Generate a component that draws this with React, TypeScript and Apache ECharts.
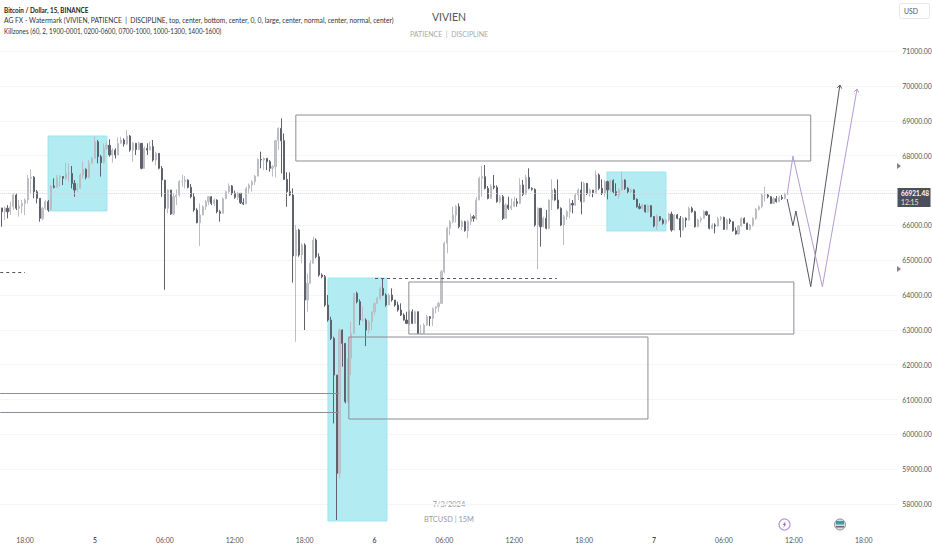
import React, { useEffect, useRef } from "react";
import * as echarts from "echarts";

const closes = [66390,66490,66390,66535,66870,66490,66555,66630,66730,67350,67380,66965,66775,66200,66490,66680,66440,67130,67090,67380,67400,67350,67490,67490,67205,67015,67060,67445,67607,67380,67780,67923,68400,67970,67800,68210,68300,68020,68160,68020,68354,68450,68335,68565,68160,68354,68180,68354,67636,68210,68160,68260,67875,68067,67636,67300,66488,67015,66325,66820,66870,67254,67254,67300,67090,66820,66440,66076,66296,66535,66680,66820,66630,66727,66390,66345,66765,66965,67130,66920,66803,66920,66650,66612,67060,67158,67254,67416,67895,67875,67923,67828,67636,67684,68430,68785,68430,67320,66965,66870,65120,65866,65148,65435,63856,64335,64909,65579,65100,64574,64526,63712,63281,62755,61702,58879,62994,62612,60937,62181,62899,64047,63808,63281,63281,62994,63234,63521,63760,63904,64190,63999,63712,63999,63856,63712,63569,63425,63281,63186,63521,63186,63521,62899,62899,63138,63377,63329,63616,63664,63760,64670,65483,65914,66105,66296,66536,65961,66105,65847,66105,66248,66200,66727,67349,67397,67062,66775,67129,67091,66679,66823,66200,66583,66488,66555,66679,66631,67158,66890,67378,67062,67033,66009,66488,65961,66200,65914,66727,67014,66727,66488,66009,66248,66392,66631,66583,66871,67014,66679,67205,66919,67015,66938,67445,67062,66919,67254,67015,67282,66967,66871,67015,67302,67062,66967,67015,66747,66536,66488,66584,66392,66565,66249,65981,66249,66153,66058,66153,66325,65866,66297,66201,65866,66201,66153,66488,66393,65962,66153,66201,66393,66297,65914,66010,65981,66191,66230,65885,66153,66105,65847,65751,65981,66201,66058,65885,66010,66201,66459,66536,66871,66871,66823,66632,66766,66680,66804,66766,66900,66919];
const highs = [66490,66540,66580,66680,66920,66920,66730,66730,66775,67445,67607,67416,67015,66775,66535,66727,66727,67158,67350,67445,67445,67416,67800,67780,67703,67300,67205,67490,67828,67636,67875,67970,68545,68450,68020,68354,68400,68470,68210,68210,68526,68545,68500,68737,68593,68400,68354,68400,68180,68260,68354,68400,68450,68115,68067,67703,67300,67033,66820,66920,67033,67300,67445,67416,67320,67186,66920,66488,66630,66580,66727,66840,66840,66775,66746,66440,66803,66995,67205,67158,66995,66965,66920,66775,67110,67205,67300,67445,67923,68115,67952,67923,67875,67730,68450,68813,69072,68641,67521,67521,67060,66009,65900,65483,65483,64620,65000,65674,65627,65196,64620,64574,63999,63377,62803,61702,63042,63013,62612,62803,63234,64047,64095,63875,63664,63329,63281,63521,63780,63950,64238,64478,64047,64047,64190,63856,63808,63760,63473,63521,63569,63588,63550,63521,63138,63186,63425,63396,63645,63680,63808,64717,65530,65961,66153,66536,66583,66631,66153,66134,66153,66344,66296,66823,67397,67703,67732,67129,67177,67445,67148,66871,66871,66631,66823,66775,66823,66775,67349,67301,67445,67636,67091,67062,66517,66440,66248,66440,66746,67320,67062,67320,66517,66296,66440,66775,66727,66918,67062,67253,67253,67158,67062,67015,67570,67493,67321,67302,67282,67321,67321,67206,67062,67541,67321,67091,67053,67034,66775,66632,66613,66584,66593,66584,66268,66325,66268,66201,66191,66364,66393,66325,66325,66268,66230,66230,66536,66536,66421,66201,66249,66440,66421,66306,66058,66058,66249,66268,66249,66191,66201,66115,65943,66010,66230,66230,66077,66038,66230,66498,66574,66919,67110,66900,66842,66804,66842,66842,66871,66938,66957];
const lows = [65960,66150,66200,66300,66440,66440,66250,66345,66300,66630,66920,66775,66630,66105,66150,66440,66390,66440,67060,67090,67110,67158,67300,67254,67060,66820,66965,67110,67350,67320,67350,67780,67970,67780,67400,67780,68160,67970,67800,67920,68020,68354,68260,68300,68115,67828,68020,68160,67607,67730,68020,68160,67828,67730,67607,66820,64150,66345,66300,66300,66580,66820,67110,67060,67060,66775,66390,66057,65406,66300,66440,66580,66580,66555,66345,66105,66420,66746,66920,66870,66765,66727,66612,66580,66630,66920,66965,67158,67400,67636,67588,67588,67540,67400,67380,68160,67490,67300,66535,66840,64354,62660,65100,64909,62995,63520,64335,64909,65052,64526,64478,63664,63234,62707,60315,57540,58736,61942,60889,60889,61702,62947,63760,63138,63234,62535,62899,62994,63425,63760,63856,63970,63664,63712,63808,63665,63521,63396,63262,63167,63138,63167,63186,62880,62880,62880,63109,63109,63109,63473,63521,63760,64620,65196,65722,66057,66076,65914,65866,65818,65626,66009,66105,66153,66775,66823,67033,66746,66775,67033,66650,66631,66153,66200,66440,66440,66517,66536,66612,66842,66871,67033,66995,65961,64736,65387,65942,65885,65885,66440,66708,66459,65980,65435,66153,66200,66344,66555,66727,66315,66650,66871,66823,66804,66919,67015,66871,66823,66747,66967,66919,66842,66775,66995,67015,66919,66919,66727,66507,66459,66459,66364,66364,66230,65943,65866,66115,66019,66010,66105,65818,65847,66172,65656,65847,65943,66134,66364,65933,65943,66077,66191,66268,65885,65895,65770,65962,66134,65866,65866,66038,65818,65732,65723,65962,66038,65866,65847,65962,66153,66421,66488,66680,66775,66613,66613,66651,66708,66727,66747,66871];
const firstOpen = 66500;

const tickSlots = [8,32,56,80,104,128,152,176,200,224,248,272,296];
const tickLabels = ["18:00","5","06:00","12:00","18:00","6","06:00","12:00","18:00","7","06:00","12:00","18:00"];
const dayLabels = ["5","6","7"];
const hiddenPriceLabels = [57000, 67000, 72000];

const killzones = [
  [15.9,36.15,68565,66411],
  [112.0,132.3,64488,57511],
  [207.8,228.1,67531,65837],
];
const boxes = [
  [101.0,277.8,69167,67847],
  [139.8,272.0,64373,62880],
  [119.2,221.9,62794,60440],
];
const solidLevels = [
  [-0.5,115.8,61186],
  [-0.5,115.8,60640],
];
const dashedLevels = [
  [-0.5,8,64674],
  [128.2,190.6,64488],
];
const lastPrice = 66921.48;
const pathBlack = [[269.7,66756],[271.7,65989],[272.7,66411],[277.8,64238],[287.8,70029]];
const pathPurple = [[269.8,66937],[271.7,67990],[281.8,64238],[293.7,69914]];

const SLOT_COUNT = 308;
const FONT = "Lato, 'Noto Sans', sans-serif";

echarts.graphic.registerShape(
  "boltMark",
  echarts.graphic.extendPath("M1.2 -3.6 L-1.8 0.6 L-0.2 0.6 L-1.2 3.6 L1.8 -0.8 L0.2 -0.8 Z", {})
);

function buildOption() {
  const categories = Array.from({ length: SLOT_COUNT }, (_, i) => {
    const k = tickSlots.indexOf(i);
    return k >= 0 ? tickLabels[k] : "s" + i;
  });
  const candles = closes.map((c, i) => {
    const o = i === 0 ? firstOpen : closes[i - 1];
    return [o, c, lows[i], highs[i]];
  });

  const rectItem = (api: any, style: any) => {
    const a = api.coord([api.value(0), api.value(2)]);
    const b = api.coord([api.value(1), api.value(3)]);
    return { type: "rect", shape: { x: a[0], y: a[1], width: b[0] - a[0], height: b[1] - a[1] }, style };
  };
  const levelItem = (color: string, dash?: number[], width = 1) => (_: any, api: any) => {
    const a = api.coord([api.value(0), api.value(2)]);
    const b = api.coord([api.value(1), api.value(2)]);
    return {
      type: "line",
      shape: { x1: a[0], y1: Math.round(a[1]) + 0.5, x2: b[0], y2: Math.round(b[1]) + 0.5 },
      style: { stroke: color, lineWidth: width, lineDash: dash },
    };
  };
  const pathItem = (pts: number[][], color: string) => (_: any, api: any) => {
    const px = pts.map((p) => api.coord(p));
    const n = px.length;
    const ang = Math.atan2(px[n - 1][1] - px[n - 2][1], px[n - 1][0] - px[n - 2][0]);
    const tip = px[n - 1];
    const head = [
      [tip[0] - 4 * Math.cos(ang - 0.62), tip[1] - 4 * Math.sin(ang - 0.62)],
      tip,
      [tip[0] - 4 * Math.cos(ang + 0.62), tip[1] - 4 * Math.sin(ang + 0.62)],
    ];
    return {
      type: "group",
      children: [
        { type: "polyline", shape: { points: px }, style: { stroke: color, fill: "none", lineWidth: 1 } },
        { type: "polyline", shape: { points: head }, style: { stroke: color, fill: "none", lineWidth: 1 } },
      ],
    };
  };
  const overlayBase = { type: "custom", xAxisIndex: 1, yAxisIndex: 0, silent: true, clip: false };
  const legendText = (y: number, text: string, color: string, scaleX: number, weight = 400) => ({
    type: "text", x: 4, y, scaleX,
    style: { text, fill: color, font: `${weight} 7.4px ${FONT}`, textVerticalAlign: "middle" },
  });
  const centerText = (y: number, text: string, color: string, size: number) => ({
    type: "text", x: 449, y,
    style: { text, fill: color, font: `400 ${size}px ${FONT}`, textAlign: "center", textVerticalAlign: "middle" },
  });

  return {
    animation: false,
    backgroundColor: "#ffffff",
    grid: { left: 0.24, top: 16.34, width: 897, height: 522.5, containLabel: false, outerBoundsMode: "none" },
    xAxis: [
      {
        type: "category",
        data: categories,
        boundaryGap: true,
        axisLine: { show: false },
        axisTick: { show: false },
        splitLine: { show: false },
        axisLabel: {
          interval: (i: number) => tickSlots.includes(i),
          margin: -2,
          fontFamily: FONT,
          fontSize: 6.9,
          hideOverlap: false,
          color: (v: string) => (dayLabels.includes(v) ? "#222" : "#555"),
        },
      },
      { type: "value", show: false, min: -0.5, max: SLOT_COUNT - 0.5 },
    ],
    yAxis: {
      type: "value",
      position: "right",
      min: 57000,
      max: 72000,
      interval: 1000,
      axisLine: { show: false },
      axisTick: { show: false },
      splitLine: { show: true, showMinLine: false, showMaxLine: false, lineStyle: { color: "#f4f5f7", width: 1 } },
      axisLabel: {
        margin: 5,
        fontFamily: FONT,
        fontSize: 6.9,
        color: "#555",
        formatter: (v: number) => (hiddenPriceLabels.includes(v) ? "" : v.toFixed(2)),
      },
    },
    series: [
      {
        ...overlayBase,
        z: 1,
        data: killzones,
        renderItem: (_: any, api: any) => rectItem(api, { fill: "#b2ebf2", stroke: "#8fe3ee", lineWidth: 0.8 }),
      },
      {
        type: "candlestick",
        xAxisIndex: 0,
        yAxisIndex: 0,
        z: 2,
        barWidth: 1.6,
        data: candles,
        itemStyle: {
          color: "#c4c5ca",
          color0: "#5f626d",
          borderColor: "#bcbdc3",
          borderColor0: "#5f626d",
          borderWidth: 1,
        },
      },
      {
        ...overlayBase,
        z: 3,
        data: boxes,
        renderItem: (_: any, api: any) => rectItem(api, { fill: "none", stroke: "#8c8d94", lineWidth: 1 }),
      },
      { ...overlayBase, z: 3, data: solidLevels, renderItem: levelItem("#8c8d94") },
      { ...overlayBase, z: 3, data: dashedLevels, renderItem: levelItem("#555", [3, 3]) },
      {
        ...overlayBase,
        z: 3,
        data: [[-0.5, SLOT_COUNT - 0.5, lastPrice]],
        renderItem: levelItem("#d4d5d9", [1, 1]),
      },
      { ...overlayBase, z: 4, data: [0], renderItem: pathItem(pathBlack, "#555761") },
      { ...overlayBase, z: 4, data: [0], renderItem: pathItem(pathPurple, "#b49ad6") },
    ],
    graphic: [
      legendText(10, "Bitcoin / Dollar, 15, BINANCE", "#222", 0.86, 700),
      legendText(20.5, "AG FX - Watermark (VIVIEN, PATIENCE  |  DISCIPLINE, top, center, bottom, center, 0, 0, large, center, normal, center, normal, center)", "#333", 0.91),
      legendText(31, "Killzones (60, 2, 1900-0001, 0200-0600, 0700-1000, 1000-1300, 1400-1600)", "#333", 0.855),
      centerText(16.5, "VIVIEN", "#555", 10.5),
      centerText(34, "PATIENCE  |  DISCIPLINE", "#a8a9ae", 7),
      centerText(504, "7/3/2024", "#9a9ba0", 7.4),
      centerText(519, "BTCUSD | 15M", "#9a9ba0", 7.4),
      { type: "rect", shape: { x: 899.5, y: 3.5, width: 30, height: 15, r: 2 }, style: { fill: "#fff", stroke: "#e6e7ec", lineWidth: 1 } },
      { type: "text", x: 904, y: 11, style: { text: "USD", fill: "#555", font: `400 6.9px ${FONT}`, textVerticalAlign: "middle" } },
      { type: "rect", shape: { x: 897.5, y: 188, width: 33, height: 19 }, style: { fill: "#4b4e5b" } },
      { type: "text", x: 901, y: 193.5, style: { text: "66921.48", fill: "#fff", font: `700 6.5px ${FONT}`, textVerticalAlign: "middle" } },
      { type: "text", x: 901, y: 202, style: { text: "12:15", fill: "#e4e4e8", font: `400 6.8px ${FONT}`, textVerticalAlign: "middle" } },
      { type: "polygon", shape: { points: [[897, 163], [901, 166], [897, 169]] }, style: { fill: "#8d7f88" } },
      { type: "polygon", shape: { points: [[897, 266], [901, 269], [897, 272]] }, style: { fill: "#8d7f88" } },
      { type: "circle", shape: { cx: 784.5, cy: 524.5, r: 5.5 }, style: { fill: "#fff", stroke: "#b79ad8", lineWidth: 1.2 } },
      { type: "boltMark", x: 784.5, y: 524.5, style: { fill: "#8a6cb0" } },
      { type: "circle", shape: { cx: 840, cy: 524.5, r: 5.5 }, style: { fill: "#d9dadd", stroke: "#8f9096", lineWidth: 1 } },
      { type: "rect", shape: { x: 836, y: 521, width: 8, height: 3.5 }, style: { fill: "#3f9aa8" } },
      { type: "rect", shape: { x: 836, y: 526, width: 8, height: 1.5 }, style: { fill: "#6a6b72" } },
    ],
  };
}

export default function App() {
  const ref = useRef<HTMLDivElement>(null);
  useEffect(() => {
    document.body.style.margin = "0";
    const chart = echarts.init(ref.current!, undefined, { renderer: "svg" });
    chart.setOption(buildOption() as any);
    return () => chart.dispose();
  }, []);
  return <div ref={ref} style={{ width: 932, height: 550 }} />;
}
